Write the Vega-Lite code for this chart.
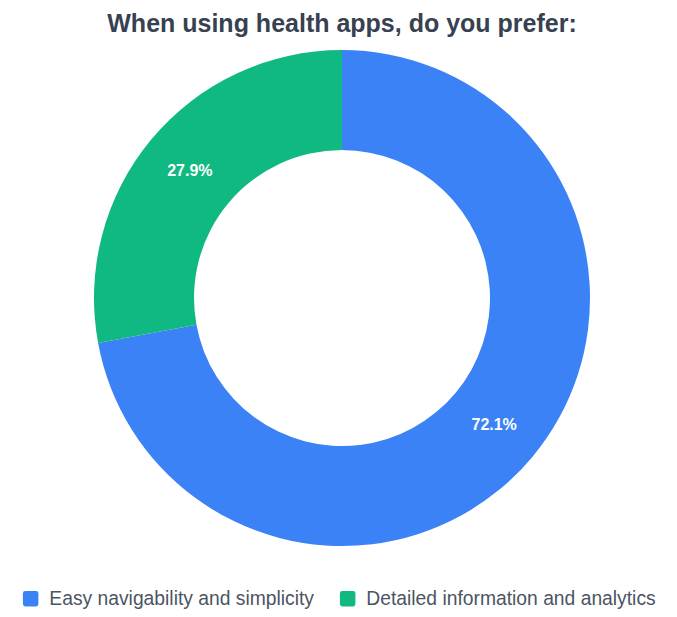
{
  "$schema": "https://vega.github.io/schema/vega-lite/v6.json",
  "autosize": "none",
  "padding": {"top": 50, "left": 7, "right": 0, "bottom": 71},
  "width": 670,
  "height": 496,
  "background": "white",
  "title": {
    "text": "When using health apps, do you prefer:",
    "font": "Liberation Sans",
    "fontSize": 25,
    "fontWeight": "bold",
    "color": "#374151",
    "anchor": "middle",
    "offset": 13
  },
  "data": {
    "values": [
      {"choice": "Easy navigability and simplicity", "share": 0.721, "order": 1},
      {"choice": "Detailed information and analytics", "share": 0.279, "order": 2}
    ]
  },
  "encoding": {
    "theta": {"field": "share", "type": "quantitative", "stack": true},
    "order": {"field": "order", "type": "quantitative"},
    "color": {
      "field": "choice",
      "type": "nominal",
      "scale": {
        "domain": ["Easy navigability and simplicity", "Detailed information and analytics"],
        "range": ["#3b82f6", "#10b981"]
      },
      "legend": {
        "title": null,
        "orient": "none",
        "legendX": 14,
        "legendY": 539,
        "padding": 0,
        "direction": "horizontal",
        "labelFont": "Liberation Sans",
        "labelFontSize": 19.3,
        "labelColor": "#4b5563",
        "symbolType": "M-0.7,-1H0.7Q1,-1 1,-0.7V0.7Q1,1 0.7,1H-0.7Q-1,1 -1,0.7V-0.7Q-1,-1 -0.7,-1Z",
        "symbolSize": 240,
        "symbolStrokeWidth": 0,
        "symbolOpacity": 1,
        "columnPadding": 24,
        "labelOffset": 9,
        "labelLimit": 400
      }
    }
  },
  "layer": [
    {
      "mark": {"type": "arc", "outerRadius": 248, "innerRadius": 148, "stroke": "white", "strokeWidth": 0}
    },
    {
      "mark": {
        "type": "text",
        "radius": 198,
        "font": "Liberation Sans",
        "fontSize": 16,
        "fontWeight": "bold",
        "fill": "white"
      },
      "encoding": {
        "text": {"field": "share", "type": "quantitative", "format": ".1%"},
        "color": {"value": "white"}
      }
    }
  ]
}
